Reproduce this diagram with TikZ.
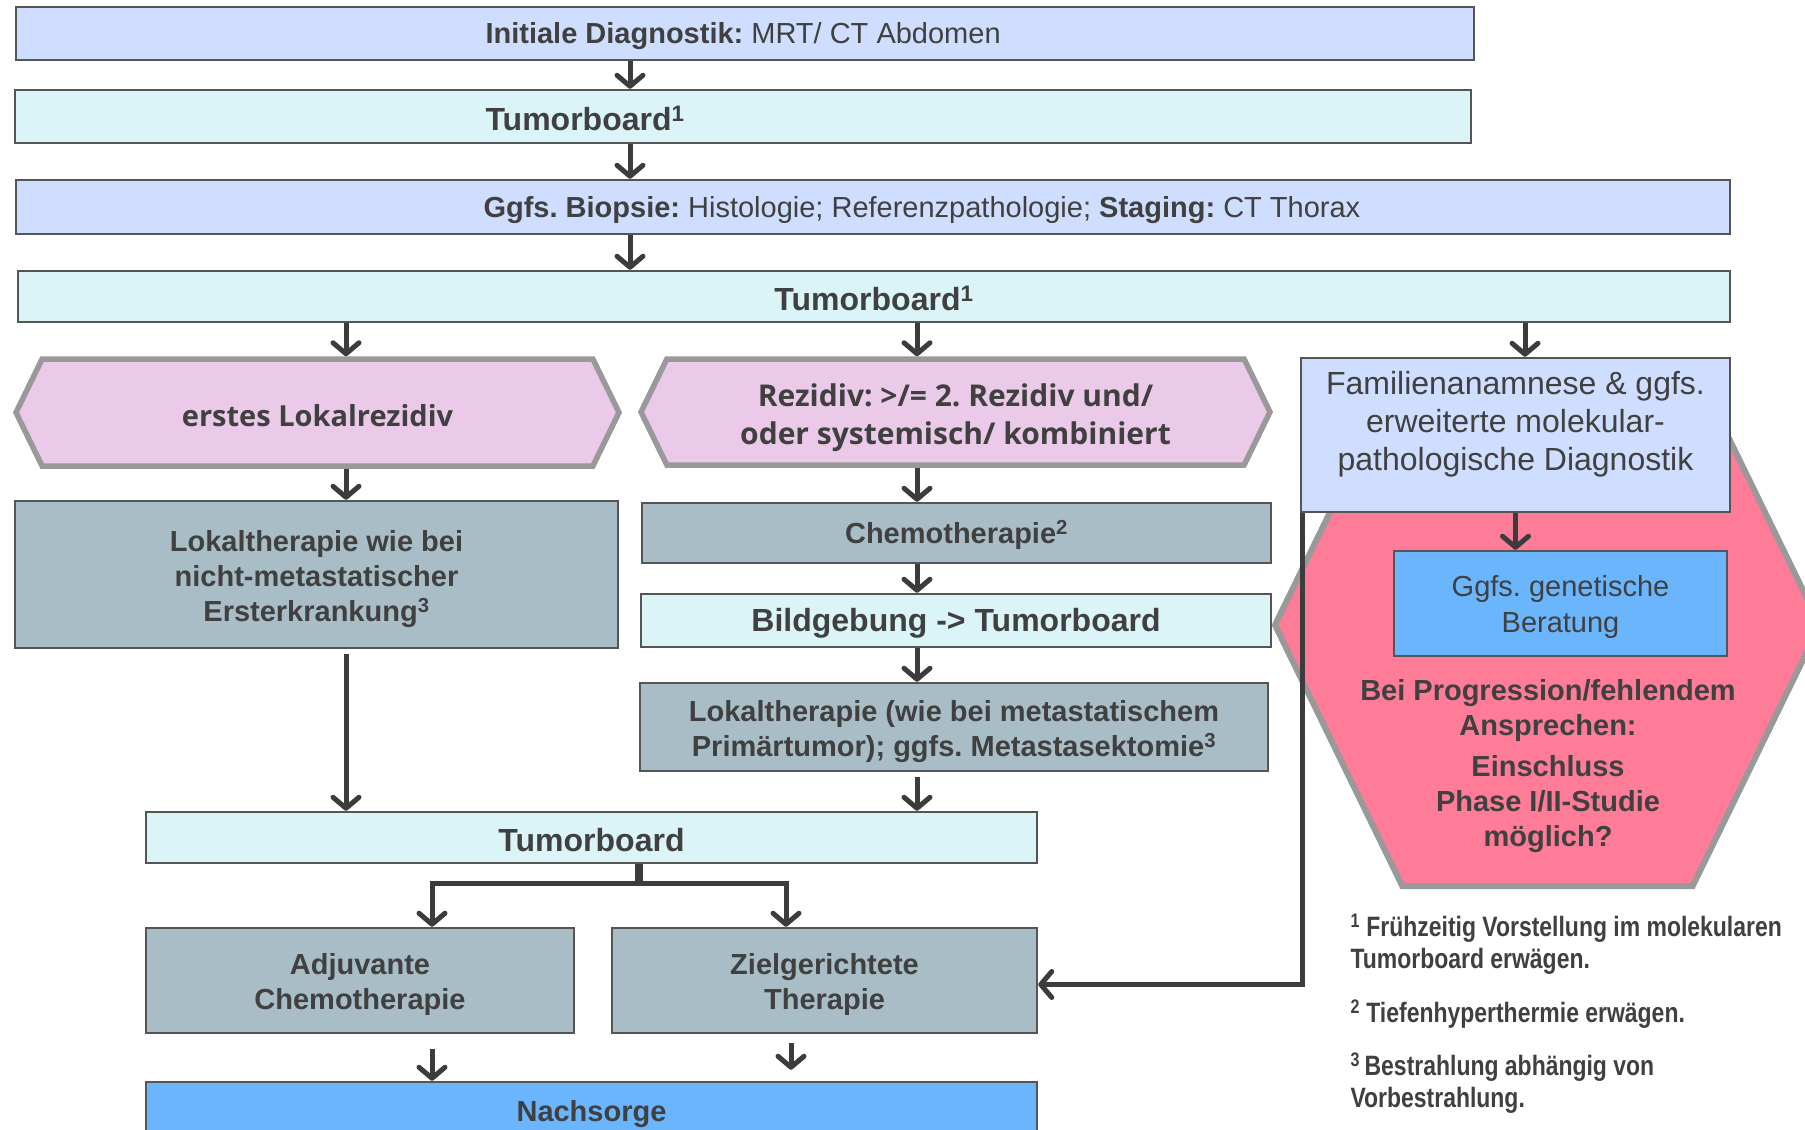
\documentclass[tikz,border=0pt]{standalone}
\usepackage{fontspec}
\setmainfont{Liberation Sans}
\newfontfamily\hexfont{Open Sans}
\newfontfamily\notefont[FakeStretch=0.82]{Liberation Sans}
\usepackage{xcolor}
\usetikzlibrary{
	arrows.meta,
	positioning,
	calc,
	shapes.symbols
}
\frenchspacing

\definecolor{txt}{HTML}{404040}
\definecolor{boxline}{HTML}{555555}
\definecolor{hexline}{HTML}{999999}
\definecolor{diagblue}{HTML}{CFDEFE}
\definecolor{boardcyan}{HTML}{DAF4F8}
\definecolor{rezpink}{HTML}{EBC9E8}
\definecolor{thergray}{HTML}{A9BDC7}
\definecolor{followblue}{HTML}{6BB5FD}
\definecolor{studypink}{HTML}{FF7C98}
\definecolor{arrowgray}{HTML}{3C3C3C}

% pushes the first line of a multi-line node down
\newcommand{\txtdown}[1]{\rule{0pt}{\dimexpr0.75em+#1\relax}}

\tikzset{
	box/.style={draw=boxline,line width=2.5pt,inner sep=0pt,text=txt,align=center,
		execute at begin node={\rule{0pt}{\dimexpr0.75em+5pt\relax}}},
	diagbox/.style={box,fill=diagblue},
	boardbox/.style={box,fill=boardcyan,font=\fontsize{32}{38}\selectfont\bfseries},
	therbox/.style={box,fill=thergray,font=\fontsize{29}{35}\selectfont\bfseries},
	followbox/.style={box,fill=followblue},
	hexbox/.style={signal,signal to=west and east,signal pointer angle=128,draw=hexline,line width=5.5pt,inner sep=0pt,text=txt,align=center,
		execute at begin node={\rule{0pt}{\dimexpr0.8em+5pt\relax}}},
	conn/.style={draw=arrowgray,line width=5pt,-{Straight Barb[length=11pt,width=26pt,round]}}
}

\begin{document}
\begin{tikzpicture}[x=1pt,y=-1pt]
		
		\useasboundingbox (0,0) rectangle (1805,1130);
		\clip (0,0) rectangle (1805,1130);
		
		%---------------- Diagnostik ----------------%
		
		\node[diagbox,minimum width=1458pt,minimum height=53pt] (diag1) at (745,33.5) {};
		\node[anchor=west,text=txt,font=\fontsize{29}{34}\selectfont] (diag1txt) at (482,36.5)
		{\textbf{Initiale Diagnostik:} MRT/ CT Abdomen};
		
		\node[boardbox,minimum width=1456pt,minimum height=53pt] (board1) at (743,116.5) {};
		\node[anchor=west,text=txt,font=\fontsize{32}{38}\selectfont\bfseries] (board1txt) at (482,118)
		{Tumorboard\textsuperscript{1}};
		
		\node[diagbox,minimum width=1714pt,minimum height=54pt] (diag2) at (873,207) {};
		\node[anchor=west,text=txt,font=\fontsize{29}{34}\selectfont] (diag2txt) at (480,210)
		{\textbf{Ggfs. Biopsie:} Histologie; Referenzpathologie; \textbf{Staging:} CT Thorax};
		
		\node[boardbox,minimum width=1712pt,minimum height=51pt] (board2) at (874,296.5)
		{Tumorboard\textsuperscript{1}};
		
		%---------------- Rezidiv ----------------%
		
		\node[hexbox,fill=rezpink,minimum width=603pt,minimum height=107pt,
		font=\hexfont\fontsize{29}{38}\selectfont\bfseries] (rez1) at (317.5,412.5)
		{erstes Lokalrezidiv};
		
		\node[hexbox,fill=rezpink,minimum width=629pt,minimum height=106pt,
		font=\hexfont\fontsize{30}{38}\selectfont\bfseries] (rez2) at (955.5,412)
		{\txtdown{11pt}Rezidiv: >/= 2. Rezidiv und/\\oder systemisch/ kombiniert};
		
		\node[therbox,minimum width=603pt,minimum height=147pt] (lok1) at (316.5,574.5)
		{\txtdown{8pt}Lokaltherapie wie bei\\nicht-metastatischer\\Ersterkrankung\textsuperscript{3}};
		
		\node[therbox,minimum width=629pt,minimum height=60pt] (chemo) at (956.5,533)
		{Chemotherapie\textsuperscript{2}};
		
		\node[boardbox,minimum width=630pt,minimum height=53pt] (bild) at (956,620.5)
		{Bildgebung -> Tumorboard};
		
		\node[therbox,minimum width=628pt,minimum height=88pt] (lok2) at (954,727)
		{\txtdown{9pt}Lokaltherapie (wie bei metastatischem\\Primärtumor); ggfs. Metastasektomie\textsuperscript{3}};
		
		\node[boardbox,minimum width=891pt,minimum height=51pt] (board3) at (591.5,837.5)
		{Tumorboard};
		
		\node[therbox,minimum width=428pt,minimum height=105pt] (adj) at (360,980.5)
		{\txtdown{8pt}Adjuvante\\Chemotherapie};
		
		\node[therbox,minimum width=425pt,minimum height=105pt] (ziel) at (824.5,980.5)
		{\txtdown{8pt}Zielgerichtete\\Therapie};
		
		\node[followbox,minimum width=891pt,minimum height=58pt,
		font=\fontsize{29}{35}\selectfont\bfseries] (nach) at (591.5,1111)
		{Nachsorge};
		
		%---------------- Studie ----------------%
		
		\node[hexbox,fill=studypink,line width=6pt,minimum width=545pt,minimum height=522pt] (study) at (1547.5,625) {};
		
		\node[diagbox,minimum width=429pt,minimum height=154pt] (fam) at (1515.5,435) {};
		\node[text=txt,align=center,font=\fontsize{32}{38}\selectfont] (famtxt) at (1515.5,424)
		{Familienanamnese \& ggfs.\\erweiterte molekular-\\pathologische Diagnostik};
		
		\node[followbox,minimum width=333pt,minimum height=105pt,
		font=\fontsize{29}{36}\selectfont] (berat) at (1560.5,603.5)
		{\txtdown{7pt}Ggfs. genetische\\Beratung};
		
		\node[text=txt,align=center,font=\fontsize{29}{35}\selectfont\bfseries] (progtxt) at (1548,766)
		{Bei Progression/fehlendem\\Ansprechen:\\[6pt]Einschluss\\Phase I/II-Studie\\möglich?};
		
		%---------------- Fussnoten ----------------%
		
		\node[anchor=west,align=left,text=txt,font=\notefont\fontsize{28}{32}\selectfont\bfseries] (note1) at (1347,944)
		{\textsuperscript{1} Frühzeitig Vorstellung im molekularen\\Tumorboard erwägen.};
		\node[anchor=west,align=left,text=txt,font=\notefont\fontsize{28}{32}\selectfont\bfseries] (note2) at (1347,1014)
		{\textsuperscript{2} Tiefenhyperthermie erwägen.};
		\node[anchor=west,align=left,text=txt,font=\notefont\fontsize{28}{32}\selectfont\bfseries] (note3) at (1347,1083.5)
		{\textsuperscript{3}\,Bestrahlung abhängig von\\Vorbestrahlung.};
		
		%---------------- Pfeile ----------------%
		
		\coordinate (colT) at (630,0);
		\coordinate (colA) at (346,0);
		\coordinate (colB) at (917,0);
		\coordinate (colC) at (1525,0);
		\coordinate (colE) at (432,0);
		\coordinate (colF) at (786,0);
		\coordinate (colG) at (791,0);
		\coordinate (fork) at (639,883);
		
		\draw[conn] (diag1.south -| colT)--(board1.north -| colT);
		\draw[conn] (board1.south -| colT)--(diag2.north -| colT);
		\draw[conn] (diag2.south -| colT)--(board2.north -| colT);
		
		\draw[conn] (board2.south -| colA)--(rez1.north -| colA);
		\draw[conn] (board2.south -| colB)--(rez2.north -| colB);
		\draw[conn] (board2.south -| colC)--(fam.north -| colC);
		
		\draw[conn] (rez1.south -| colA)--(lok1.north -| colA);
		\draw[conn,shorten <=5pt] (lok1.south -| colA)--(board3.north -| colA);
		
		\draw[conn] (rez2.south -| colB)--(chemo.north -| colB);
		\draw[conn] (chemo.south -| colB)--(bild.north -| colB);
		\draw[conn] (bild.south -| colB)--(lok2.north -| colB);
		\draw[conn,shorten <=5pt] (lok2.south -| colB)--(board3.north -| colB);
		
		\draw[draw=arrowgray,line width=8pt] (board3.south -| fork)--(fork);
		\draw[conn] (fork) -| (adj.north -| colE);
		\draw[conn] (fork) -| (ziel.north -| colF);
		
		\draw[conn,shorten <=15pt] (adj.south -| colE)--(nach.north -| colE);
		\draw[conn,shorten <=9pt,shorten >=11pt] (ziel.south -| colG)--(nach.north -| colG);
		
		\draw[conn] (fam.south)--(berat.north -| fam.south);
		\draw[conn] ([xshift=3pt]fam.south west) |- ([yshift=-4pt]ziel.east);
		
	\end{tikzpicture}
\end{document}
